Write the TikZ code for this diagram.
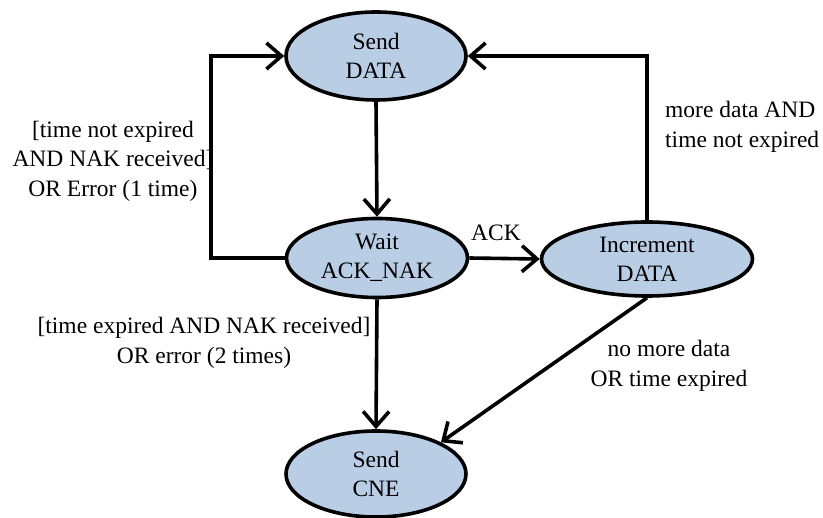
\documentclass[tikz,border=0pt]{standalone}
\usepackage{fontspec}
\setmainfont{Liberation Serif}
\usetikzlibrary{shapes.geometric,arrows.meta}
\definecolor{statefill}{HTML}{B9CDE5}
\tikzset{
  state/.style={ellipse, draw=black, line width=3.6pt, fill=statefill,
    inner sep=0pt, align=center, font=\fontsize{23.5}{29}\selectfont},
  arr/.style={line width=3.6pt, -{Straight Barb[length=15pt,width=26pt]}},
  lbl/.style={align=center, inner sep=0pt, font=\fontsize{23.5}{29.5}\selectfont},
}
\begin{document}
\begin{tikzpicture}[x=1pt,y=-1pt]
\useasboundingbox (0,0) rectangle (823,518);
\begin{scope}
\clip (0,0) rectangle (823,518);
% states
\node[state, minimum width=180pt, minimum height=88pt] (send) at (376,56) {Send\\DATA};
\node[state, minimum width=181pt, minimum height=79pt] (wait) at (377,258) {Wait\\ACK\_NAK};
\node[state, minimum width=211pt, minimum height=74pt] (inc) at (647,259) {Increment\\DATA};
\node[state, minimum width=180pt, minimum height=86pt] (cne) at (376,474) {Send\\CNE};

% transitions
\coordinate (lc) at (211,56);
\draw[arr] (send.south) -- (wait.north);
\draw[arr] (wait.west) -- (wait.west -| lc) -- (lc) -- (send.west);
\draw[arr] (wait.east) -- (inc.west);
\draw[arr] (inc.north) |- (send.east);
\draw[arr] (wait.south) -- (cne.north);
\draw[arr] (inc.south) -- (cne.26);
\end{scope}

% guard labels
\node[lbl] (l1) at (113,161) {[time not expired\\AND NAK received]\\OR Error (1 time)};
\node[lbl] (l2) at (496,233) {ACK};
\node[lbl, align=left, anchor=west] (l3) at (665,127) {more data AND\\time not expired};
\node[lbl] (l4) at (204,343) {[time expired AND NAK received]\\OR error (2 times)};
\node[lbl] (l5) at (669,366) {no more data\\OR time expired};
\end{tikzpicture}
\end{document}
